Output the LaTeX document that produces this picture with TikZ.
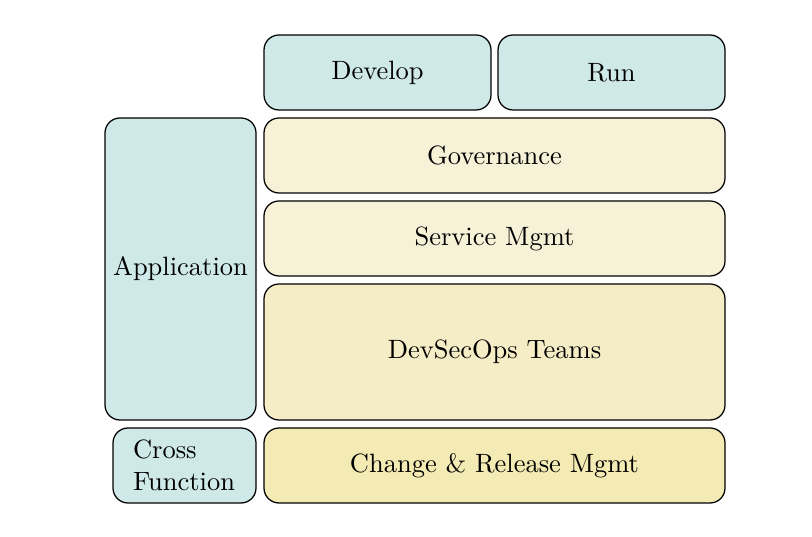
\documentclass[tikz,border=0pt]{standalone}
\begin{document}
\begin{tikzpicture}[x=0.4pt,y=-0.4pt,
  blk/.style={draw=black,line width=0.5pt,rounded corners=6pt,inner sep=0pt,align=center,font=\fontsize{10.6pt}{12.8pt}\selectfont},
  tealbox/.style={blk,fill=tealc},
  gov/.style={blk,fill=govc},
  dso/.style={blk,fill=dsoc},
  chg/.style={blk,fill=chgc}]
\definecolor{tealc}{RGB}{207,232,232}
\definecolor{govc}{RGB}{247,242,215}
\definecolor{dsoc}{RGB}{245,237,197}
\definecolor{chgc}{RGB}{244,234,180}
\useasboundingbox[fill=white] (0,0) rectangle (812,537);
\node[tealbox,minimum width=90.8pt,minimum height=30pt] (dev) at (377.5,72.5) {Develop};
\node[tealbox,minimum width=90.8pt,minimum height=30pt] (run) at (611.5,72.5) {Run};
\node[tealbox,minimum width=60.4pt,minimum height=120.8pt] (app) at (180.5,269) {Application};
\node[gov,minimum width=184.4pt,minimum height=30pt] (gv) at (494.5,155.5) {Governance};
\node[gov,minimum width=184.4pt,minimum height=30pt] (sm) at (494.5,238.5) {Service Mgmt};
\node[dso,minimum width=184.4pt,minimum height=54.4pt] (ds) at (494.5,352) {DevSecOps Teams};
\node[tealbox,minimum width=57.2pt,minimum height=30pt,inner xsep=8pt,text width=41.2pt,align=left] (cf) at (184.5,465.5) {Cross\\Function};
\node[chg,minimum width=184.4pt,minimum height=30pt] (cr) at (494.5,465.5) {Change \& Release Mgmt};
\end{tikzpicture}
\end{document}
